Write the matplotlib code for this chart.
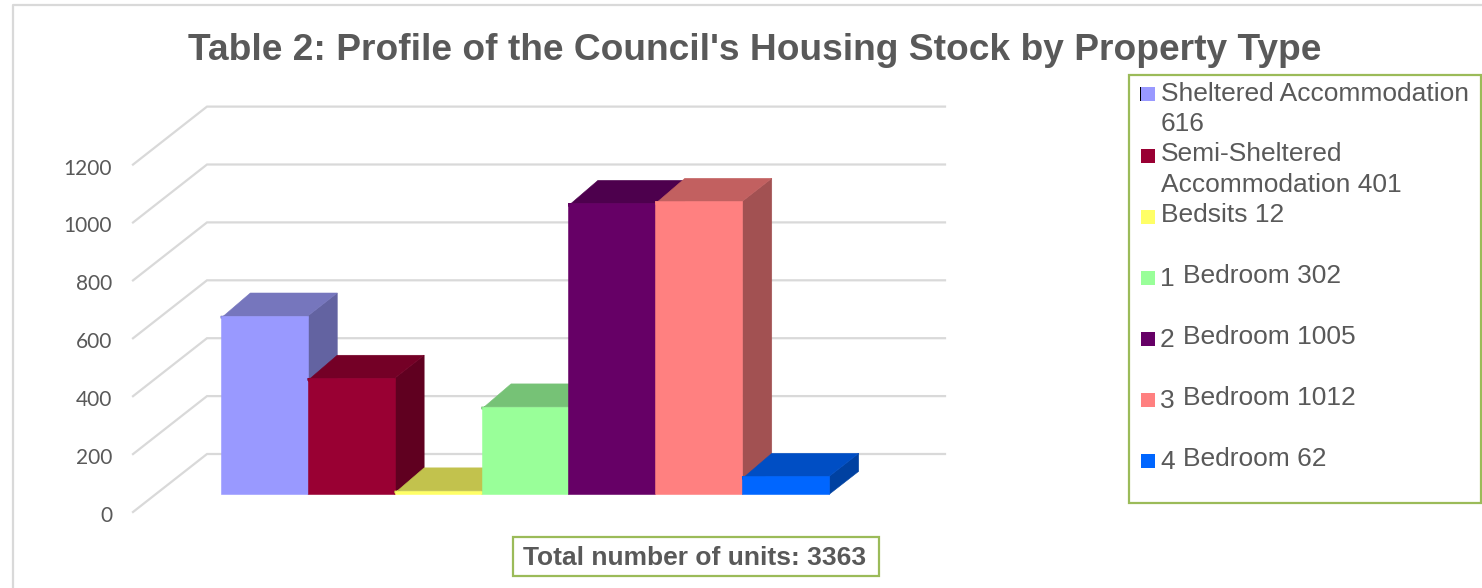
import matplotlib
matplotlib.use('Agg')
import matplotlib.pyplot as plt
from matplotlib.patches import Rectangle
from matplotlib.transforms import ScaledTranslation

# Data
labels = ['Sheltered Accommodation', 'Semi-Sheltered Accommodation', 'Bedsits',
          '1 Bedroom', '2 Bedroom', '3 Bedroom', '4 Bedroom']
values = [616, 401, 12, 302, 1005, 1012, 62]
y_ticks = [0, 200, 400, 600, 800, 1000, 1200]
title = "Table 2: Profile of the Council's Housing Stock by Property Type"
total_label = 'Total number of units: 3363'

front_colors = ['#9999ff', '#990033', '#ffff66', '#99ff99', '#660066', '#ff8080', '#0066ff']
top_colors = ['#7676bd', '#740026', '#c2c24d', '#76c276', '#4d004d', '#c26060', '#004ec4']
side_colors = ['#6363a1', '#600020', '#a1a142', '#63a163', '#400040', '#a25152', '#0041a1']

W, H = 1482, 588
GRID = '#d9d9d9'
TEXT = '#595959'
GREEN = '#9bbb59'
PX_Y = 0.2895   # pixels per value unit
PX_X = 86.9     # pixels per bar
BASE = 61       # bar base above the front floor edge, value units
BAR_DX, BAR_DY = 29.5 / PX_X, 23 / PX_Y
WALL_DX, WALL_DY = 74 / PX_X, 58 / PX_Y
OVERLAP = 8     # top face runs a bit behind the front face to hide the seam


def fx(x):
    return x / W


def fy(y):
    return 1 - y / H


fig = plt.figure(figsize=(W / 100, H / 100), dpi=100, facecolor='white')

# outer chart frame
fig.add_artist(plt.Line2D([fx(13), fx(13), fx(W)], [fy(H), fy(5), fy(5)], color=GRID, lw=1.6))

ax = fig.add_axes([fx(133), fy(512), (945 - 133) / W, (512 - 100) / H])
ax.set_xlim((133 - 264.3) / PX_X, (945 - 264.3) / PX_X)
ax.set_ylim(0, 412 / PX_Y)
ax.patch.set_alpha(0)
for s in ax.spines.values():
    s.set_visible(False)

# gridlines on the floor edge and back wall
x_left, x_right = ax.get_xlim()
for t in y_ticks:
    ax.plot([x_left, x_left + WALL_DX, x_right], [t, t + WALL_DY, t + WALL_DY],
            color=GRID, lw=1.6, zorder=1, solid_joinstyle='miter', clip_on=False)

# bars, painted left to right so the next one covers the side of the last
for i, v in enumerate(values):
    x0, x1 = i - 0.5, i + 0.5
    y0, y1 = BASE, BASE + v
    z = 2 + i
    ax.fill([x1, x1 + BAR_DX, x1 + BAR_DX, x1], [y0, y0 + BAR_DY, y1 + BAR_DY, y1],
            facecolor=side_colors[i], edgecolor=side_colors[i], lw=0.4, zorder=z)
    low = max(y1 - OVERLAP, y0)
    ax.fill([x0, x0, x1, x1 + BAR_DX, x0 + BAR_DX], [low, y1, y1 + 0, y1 + BAR_DY, y1 + BAR_DY],
            facecolor=top_colors[i], edgecolor=top_colors[i], lw=0.4, zorder=z)
    ax.fill([x0, x1, x1, x0], [low, low, y1, y1],
            facecolor=top_colors[i], edgecolor=top_colors[i], lw=0.4, zorder=z)
    ax.bar(i, v, width=1.0, bottom=BASE, color=front_colors[i], edgecolor=front_colors[i],
           lw=0.4, zorder=z)

ax.set_xticks([])
ax.set_yticks(y_ticks)
ax.set_yticklabels([str(t) for t in y_ticks], family='Lato', fontsize=15, color=TEXT)
ax.tick_params(axis='y', length=0, pad=15)
# tick labels sit a little under their gridline ends
for lab in ax.get_yticklabels():
    lab.set_transform(lab.get_transform() + ScaledTranslation(0, -2 / 100, fig.dpi_scale_trans))

fig.text(fx(755), fy(50), title, family='Liberation Sans', weight='bold', fontsize=26.7,
         color=TEXT, ha='center', va='center')

# legend box
fig.add_artist(Rectangle((fx(1129), fy(503)), (1481 - 1129) / W, 428 / H, transform=fig.transFigure,
                         fill=False, edgecolor=GREEN, lw=1.6))

legend_lines = [
    (1161, 94, labels[0]),
    (1161, 124, str(values[0])),
    (1161, 154, 'Semi-Sheltered'),
    (1161, 185, f'Accommodation {values[1]}'),
    (1161, 215, f'{labels[2]} {values[2]}'),
]
for x, y, s in legend_lines:
    fig.text(fx(x), fy(y), s, family='Liberation Sans', fontsize=19, color=TEXT, va='center')

key_ys = [94, 156, 217, 278, 339, 400, 461]
for i, ky in enumerate(key_ys):
    fig.add_artist(Rectangle((fx(1141), fy(ky + 7)), 14 / W, 14 / H, transform=fig.transFigure,
                             facecolor=front_colors[i], edgecolor='none'))
fig.add_artist(Rectangle((fx(1140), fy(101)), 1 / W, 14 / H, transform=fig.transFigure,
                         facecolor='black', edgecolor='none'))

# the bedroom entries have the number set apart from the word
for i, ky in zip(range(3, 7), key_ys[3:]):
    num, word = labels[i].split(' ')
    fig.text(fx(1160), fy(ky + 1), num, family='Liberation Sans', fontsize=19, color=TEXT, va='center')
    fig.text(fx(1183), fy(ky - 2), f'{word} {values[i]}', family='Liberation Sans', fontsize=19,
             color=TEXT, va='center')

# total box
fig.add_artist(Rectangle((fx(513), fy(576)), 366 / W, 39 / H, transform=fig.transFigure,
                         facecolor='white', edgecolor=GREEN, lw=1.6))
fig.text(fx(695), fy(558), total_label, family='Liberation Sans', weight='bold', fontsize=19,
         color=TEXT, ha='center', va='center')

fig.savefig('out.png', dpi=100)
